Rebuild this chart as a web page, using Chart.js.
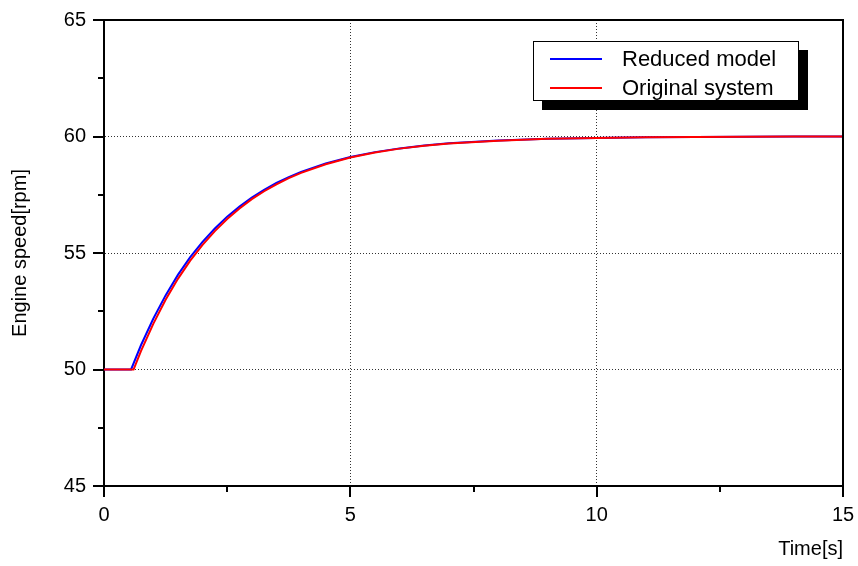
<!DOCTYPE html>
<html>
<head>
<meta charset="utf-8">
<script src="https://cdn.jsdelivr.net/npm/chart.js@4/dist/chart.umd.min.js"></script>
<style>
  body { margin: 0; background: #fff; }
  #wrap { position: relative; width: 858px; height: 566px; }
  #legend {
    position: absolute; left: 533px; top: 41px; width: 264px; height: 58px;
    border: 1px solid #000; background: #fff; box-shadow: 9px 9px 0 #000;
    font-family: "Liberation Sans", Arial, sans-serif; font-size: 22px; color: #000;
  }
  .row { position: absolute; left: 0; height: 29px; line-height: 29px; width: 100%; }
  .swatch { position: absolute; left: 16px; top: 14px; width: 52px; height: 2px; }
  .label { position: absolute; left: 88px; top: 0; white-space: nowrap; }
</style>
</head>
<body>
<div id="wrap">
  <canvas id="myChart" width="858" height="566"></canvas>
  <div id="legend"></div>
</div>
<script>
// time points (s)
var timeReduced = [0, 0.55, 0.75, 1, 1.25, 1.5, 1.75, 2, 2.25, 2.5, 2.75, 3, 3.25, 3.5, 3.75, 4, 4.5, 5, 5.5, 6, 6.5, 7, 8, 9, 10, 11, 12, 13, 14, 15];
var timeOriginal = [0, 0.6, 0.75, 1, 1.25, 1.5, 1.75, 2, 2.25, 2.5, 2.75, 3, 3.25, 3.5, 3.75, 4, 4.5, 5, 5.5, 6, 6.5, 7, 8, 9, 10, 11, 12, 13, 14, 15];

// engine speed (rpm)
var speedReduced = [50, 50, 51.04, 52.18, 53.18, 54.06, 54.82, 55.48, 56.05, 56.56, 56.99, 57.38, 57.71, 58.01, 58.26, 58.48, 58.84, 59.12, 59.33, 59.49, 59.61, 59.71, 59.83, 59.9, 59.94, 59.97, 59.98, 59.99, 60, 60];
var speedOriginal = [50, 50, 50.79, 51.96, 52.99, 53.89, 54.67, 55.35, 55.94, 56.46, 56.91, 57.31, 57.65, 57.95, 58.21, 58.44, 58.81, 59.1, 59.31, 59.48, 59.6, 59.7, 59.82, 59.9, 59.94, 59.97, 59.98, 59.99, 60, 60];

var seriesNames = ['Reduced model', 'Original system'];
var seriesColors = ['#0000ff', '#ff0000'];

var xTicksMajor = [0, 5, 10, 15];
var xTicksMinor = [2.5, 7.5, 12.5];
var yTicksMajor = [45, 50, 55, 60, 65];
var yTicksMinor = [47.5, 52.5, 57.5, 62.5];

var FONT = '"Liberation Sans", Arial, sans-serif';

function toPoints(xs, ys) {
    return xs.map((x, i) => ({ x: x, y: ys[i] }));
}

// outside tick marks + top/right frame
var frameTicks = {
    id: 'frameTicks',
    afterDraw: function (chart) {
        var ctx = chart.ctx;
        var a = chart.chartArea;
        var xs = chart.scales.x, ys = chart.scales.y;
        ctx.save();
        ctx.strokeStyle = '#000';
        ctx.lineWidth = 2;
        ctx.beginPath();
        ctx.moveTo(a.left - 1, a.top);
        ctx.lineTo(a.right, a.top);
        ctx.lineTo(a.right, a.bottom + 1);
        ctx.stroke();

        function tickX(v, len) {
            var px = Math.round(xs.getPixelForValue(v));
            ctx.moveTo(px, a.bottom);
            ctx.lineTo(px, a.bottom + len);
        }
        function tickY(v, len) {
            var py = Math.round(ys.getPixelForValue(v));
            ctx.moveTo(a.left, py);
            ctx.lineTo(a.left - len, py);
        }
        ctx.beginPath();
        xTicksMajor.forEach(v => tickX(v, 11));
        xTicksMinor.forEach(v => tickX(v, 6));
        yTicksMajor.forEach(v => tickY(v, 11));
        yTicksMinor.forEach(v => tickY(v, 6));
        ctx.stroke();
        ctx.restore();
    }
};

var ctx = document.getElementById('myChart').getContext('2d');
var chart = new Chart(ctx, {
    type: 'scatter',
    data: {
        datasets: [{
            label: seriesNames[0],
            data: toPoints(timeReduced, speedReduced),
            showLine: true,
            borderColor: seriesColors[0],
            borderWidth: 2,
            pointRadius: 0,
            tension: 0,
            order: 1
        }, {
            label: seriesNames[1],
            data: toPoints(timeOriginal, speedOriginal),
            showLine: true,
            borderColor: seriesColors[1],
            borderWidth: 2,
            pointRadius: 0,
            tension: 0,
            order: 0
        }]
    },
    options: {
        responsive: false,
        animation: false,
        layout: { padding: { left: 0, right: 15, top: 20, bottom: 0 } },
        plugins: {
            legend: { display: false },
            tooltip: { enabled: false }
        },
        scales: {
            x: {
                type: 'linear',
                min: 0,
                max: 15,
                afterFit: function (scale) {
                    scale.height = 80;
                    scale.paddingLeft = 0;
                    scale.paddingRight = 0;
                },
                afterBuildTicks: function (scale) {
                    scale.ticks = xTicksMajor.map(v => ({ value: v }));
                },
                ticks: {
                    color: '#000',
                    padding: 17,
                    maxRotation: 0,
                    font: { family: FONT, size: 20 }
                },
                grid: {
                    drawTicks: false,
                    lineWidth: 1,
                    color: c => (c.tick && (c.tick.value === 0 || c.tick.value === 15)) ? 'rgba(0,0,0,0)' : '#333'
                },
                border: { display: true, color: '#000', width: 2, dash: [1, 2] },
                title: {
                    display: true,
                    text: 'Time[s]',
                    align: 'end',
                    color: '#000',
                    font: { family: FONT, size: 20 },
                    padding: { top: 0, bottom: 5 }
                }
            },
            y: {
                min: 45,
                max: 65,
                afterFit: function (scale) {
                    scale.width = 104;
                    scale.paddingTop = 0;
                    scale.paddingBottom = 0;
                },
                afterBuildTicks: function (scale) {
                    scale.ticks = yTicksMajor.map(v => ({ value: v }));
                },
                ticks: {
                    color: '#000',
                    padding: 18,
                    font: { family: FONT, size: 20 }
                },
                grid: {
                    drawTicks: false,
                    lineWidth: 1,
                    color: c => (c.tick && (c.tick.value === 45 || c.tick.value === 65)) ? 'rgba(0,0,0,0)' : '#333'
                },
                border: { display: true, color: '#000', width: 2, dash: [1, 2] },
                title: {
                    display: true,
                    text: 'Engine speed[rpm]',
                    color: '#000',
                    font: { family: FONT, size: 20 },
                    padding: { top: 8, bottom: 0 }
                }
            }
        }
    },
    plugins: [frameTicks]
});

// legend box with drop shadow
var legendEl = document.getElementById('legend');
seriesNames.forEach((name, i) => {
    var row = document.createElement('div');
    row.className = 'row';
    row.style.top = (2 + i * 29) + 'px';
    var sw = document.createElement('div');
    sw.className = 'swatch';
    sw.style.background = seriesColors[i];
    var lb = document.createElement('div');
    lb.className = 'label';
    lb.textContent = name;
    row.appendChild(sw);
    row.appendChild(lb);
    legendEl.appendChild(row);
});
</script>
</body>
</html>
